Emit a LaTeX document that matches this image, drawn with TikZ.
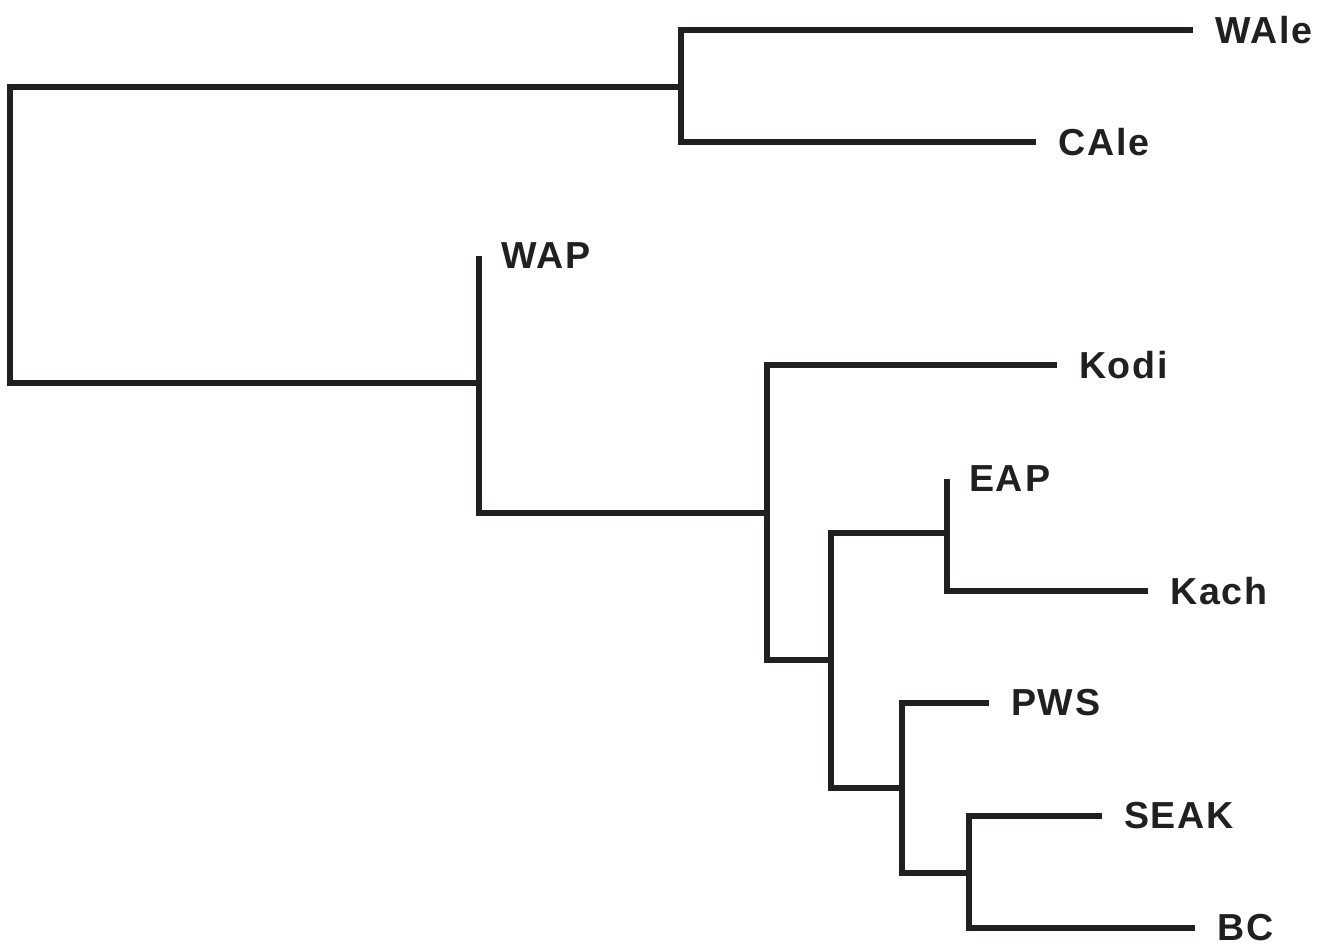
\documentclass[tikz,border=0pt]{standalone}
\usepackage{fontspec}
\setmainfont{Liberation Sans}[LetterSpace=5]
\definecolor{treeink}{HTML}{231F20}
\begin{document}
\begin{tikzpicture}[x=0.1mm,y=-0.1mm,
  branch/.style={draw=treeink,line width=0.55mm,line join=miter,line cap=butt},
  leaf/.style={anchor=west,inner sep=0pt,outer xsep=2.2mm,text=treeink,
    font=\fontsize{10.7}{12}\selectfont\bfseries}]
\useasboundingbox (0,0) rectangle (1323,952);
\coordinate (root) at (10,235);
\coordinate (ale) at (681,87);
\coordinate (pac) at (479,383);
\coordinate (cen) at (767,513);
\coordinate (gulf) at (831,660);
\coordinate (east) at (947,533);
\coordinate (south) at (902,788);
\coordinate (seak) at (969,873);
\node[leaf] (WAle) at (1193,30) {WAle};
\node[leaf] (CAle) at (1036,142) {CAle};
\node[leaf] (WAP) at (479,256) {WAP};
\node[leaf] (Kodi) at (1057,365) {Kodi};
\node[leaf] (EAP) at (947,479) {EAP};
\node[leaf] (Kach) at (1148,591) {Kach};
\node[leaf] (PWS) at (989,703) {PWS};
\node[leaf] (SEAK) at (1102,816) {SEAK};
\node[leaf] (BC) at (1195,928) {BC};
\draw[branch] (root) |- (ale) (root) |- (pac);
\draw[branch] (ale) |- (WAle) (ale) |- (CAle);
\draw[branch] (pac) -- (WAP.west) (pac) |- (cen);
\draw[branch] (cen) |- (Kodi) (cen) |- (gulf);
\draw[branch] (gulf) |- (east) (gulf) |- (south);
\draw[branch] (east) -- (EAP.west) (east) |- (Kach);
\draw[branch] (south) |- (PWS) (south) |- (seak);
\draw[branch] (seak) |- (SEAK) (seak) |- (BC);
\end{tikzpicture}
\end{document}
